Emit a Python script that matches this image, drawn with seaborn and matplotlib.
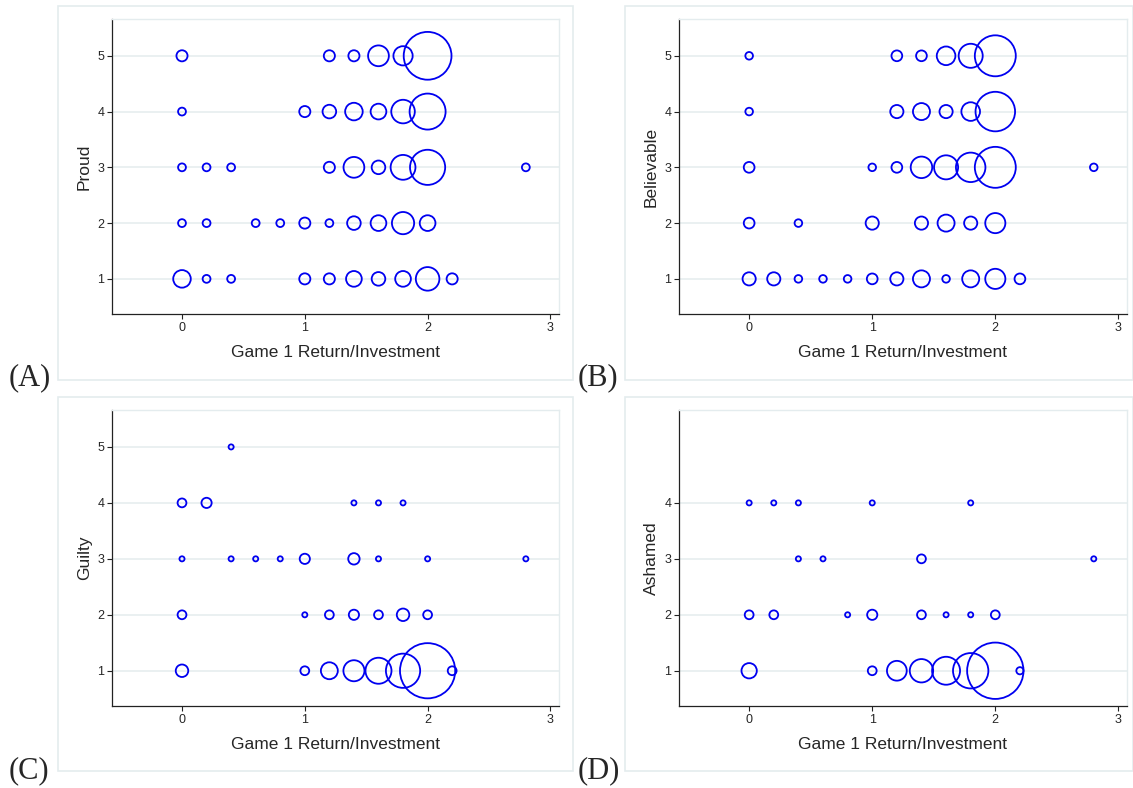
import matplotlib
matplotlib.use("Agg")
import matplotlib.pyplot as plt
from matplotlib.patches import Rectangle
import pandas as pd
import seaborn as sns

# --- data (x = return/investment, y = rating, n = count) ---
proud_x = [0, 1.2, 1.4, 1.6, 1.8, 2.0,
           0, 1.0, 1.2, 1.4, 1.6, 1.8, 2.0,
           0, 0.2, 0.4, 1.2, 1.4, 1.6, 1.8, 2.0, 2.8,
           0, 0.2, 0.6, 0.8, 1.0, 1.2, 1.4, 1.6, 1.8, 2.0,
           0, 0.2, 0.4, 1.0, 1.2, 1.4, 1.6, 1.8, 2.0, 2.2]
proud_y = [5] * 6 + [4] * 7 + [3] * 9 + [2] * 10 + [1] * 10
proud_n = [2, 2, 2, 7, 6, 37,
           1, 2, 3, 5, 4, 9, 21,
           1, 1, 1, 2, 7, 3, 10, 20, 1,
           1, 1, 1, 1, 2, 1, 3, 4, 8, 4,
           5, 1, 1, 2, 2, 4, 3, 4, 9, 2]

believ_x = [0, 1.2, 1.4, 1.6, 1.8, 2.0,
            0, 1.2, 1.4, 1.6, 1.8, 2.0,
            0, 1.0, 1.2, 1.4, 1.6, 1.8, 2.0, 2.8,
            0, 0.4, 1.0, 1.4, 1.6, 1.8, 2.0,
            0, 0.2, 0.4, 0.6, 0.8, 1.0, 1.2, 1.4, 1.6, 1.8, 2.0, 2.2]
believ_y = [5] * 6 + [4] * 6 + [3] * 8 + [2] * 7 + [1] * 12
believ_n = [1, 2, 2, 6, 10, 29,
            1, 3, 5, 3, 6, 27,
            2, 1, 2, 8, 10, 15, 29, 1,
            2, 1, 3, 3, 5, 3, 7,
            3, 3, 1, 1, 1, 2, 3, 5, 1, 5, 7, 2]

guilty_x = [0.4,
            0, 0.2, 1.4, 1.6, 1.8,
            0, 0.4, 0.6, 0.8, 1.0, 1.4, 1.6, 2.0, 2.8,
            0, 1.0, 1.2, 1.4, 1.6, 1.8, 2.0,
            0, 1.0, 1.2, 1.4, 1.6, 1.8, 2.0, 2.2]
guilty_y = [5] + [4] * 5 + [3] * 9 + [2] * 7 + [1] * 8
guilty_n = [1,
            3, 4, 1, 1, 1,
            1, 1, 1, 1, 4, 5, 1, 1, 1,
            3, 1, 3, 4, 3, 6, 3,
            6, 3, 11, 17, 26, 45, 117, 3]

ashamed_x = [0, 0.2, 0.4, 1.0, 1.8,
             0.4, 0.6, 1.4, 2.8,
             0, 0.2, 0.8, 1.0, 1.4, 1.6, 1.8, 2.0,
             0, 1.0, 1.2, 1.4, 1.6, 1.8, 2.0, 2.2]
ashamed_y = [4] * 5 + [3] * 4 + [2] * 8 + [1] * 8
ashamed_n = [1, 1, 1, 1, 1,
             1, 1, 3, 1,
             3, 3, 1, 4, 3, 1, 1, 3,
             9, 3, 15, 21, 30, 48, 122, 2]

x_ticks = [0, 1, 2, 3]
y_ticks_5 = [1, 2, 3, 4, 5]
y_ticks_4 = [1, 2, 3, 4]

panels = [
    ("(A)", "Proud", proud_x, proud_y, proud_n, y_ticks_5),
    ("(B)", "Believable", believ_x, believ_y, believ_n, y_ticks_5),
    ("(C)", "Guilty", guilty_x, guilty_y, guilty_n, y_ticks_5),
    ("(D)", "Ashamed", ashamed_x, ashamed_y, ashamed_n, y_ticks_4),
]

sns.set_theme(style="white")
plt.rcParams['font.family'] = ['Liberation Sans', 'DejaVu Sans']

W, H = 1133, 788
fig = plt.figure(figsize=(W / 100, H / 100), dpi=100)

# pixel layout: (axes left, axes top, axes right, axes bottom), outer box, label pos
axes_px = [(112, 19, 559, 314), (679, 19, 1127, 314),
           (112, 410, 559, 706), (679, 410, 1127, 706)]
box_px = [(58, 6, 573, 380), (625, 6, 1133, 380),
          (58, 397, 573, 771), (625, 397, 1133, 771)]
label_px = [(9, 385), (578, 385), (9, 778), (578, 778)]
unit_size = [32, 30, 13.5, 13.5]   # marker area (pt^2) for a count of 1

light = "#e4ecee"
blue = "#0000f0"

for i, (tag, ylab, xs, ys, ns, yt) in enumerate(panels):
    bx0, by0, bx1, by1 = box_px[i]
    fig.add_artist(Rectangle((bx0 / W, 1 - by1 / H), (bx1 - bx0) / W, (by1 - by0) / H,
                             transform=fig.transFigure, fill=False, ec=light, lw=1.2))
    l, t, r, b = axes_px[i]
    ax = fig.add_axes([l / W, 1 - b / H, (r - l) / W, (b - t) / H])

    df = pd.DataFrame({"x": xs, "y": ys, "n": ns})
    nmax = df["n"].max()
    sns.scatterplot(data=df, x="x", y="y", size="n", sizes=(0, unit_size[i] * nmax),
                    size_norm=(0, nmax), facecolor="none", edgecolor=blue,
                    linewidth=1.3, legend=False, ax=ax, zorder=3)

    ax.set_xlim(-0.57, 3.07)
    ax.set_ylim(0.37, 5.66)
    ax.set_xticks(x_ticks)
    ax.set_yticks(yt)
    ax.yaxis.grid(True, color=light, lw=1.1)
    ax.set_axisbelow(True)
    for s in ["left", "bottom"]:
        ax.spines[s].set_color("#222222")
        ax.spines[s].set_linewidth(0.9)
    for s in ["top", "right"]:
        ax.spines[s].set_color(light)
        ax.spines[s].set_linewidth(1.0)
    ax.tick_params(axis="both", direction="out", length=3.6, width=0.8,
                   color="#222222", labelsize=9, pad=2, left=True, bottom=True)
    ax.set_xlabel("Game 1 Return/Investment", fontsize=12.5, labelpad=8)
    ax.set_ylabel(ylab, fontsize=12.5, labelpad=4)

    lx, ly = label_px[i]
    fig.text(lx / W, 1 - ly / H, tag, family="Liberation Serif", fontsize=22,
             va="baseline", ha="left")

fig.savefig("out.png", dpi=100)
